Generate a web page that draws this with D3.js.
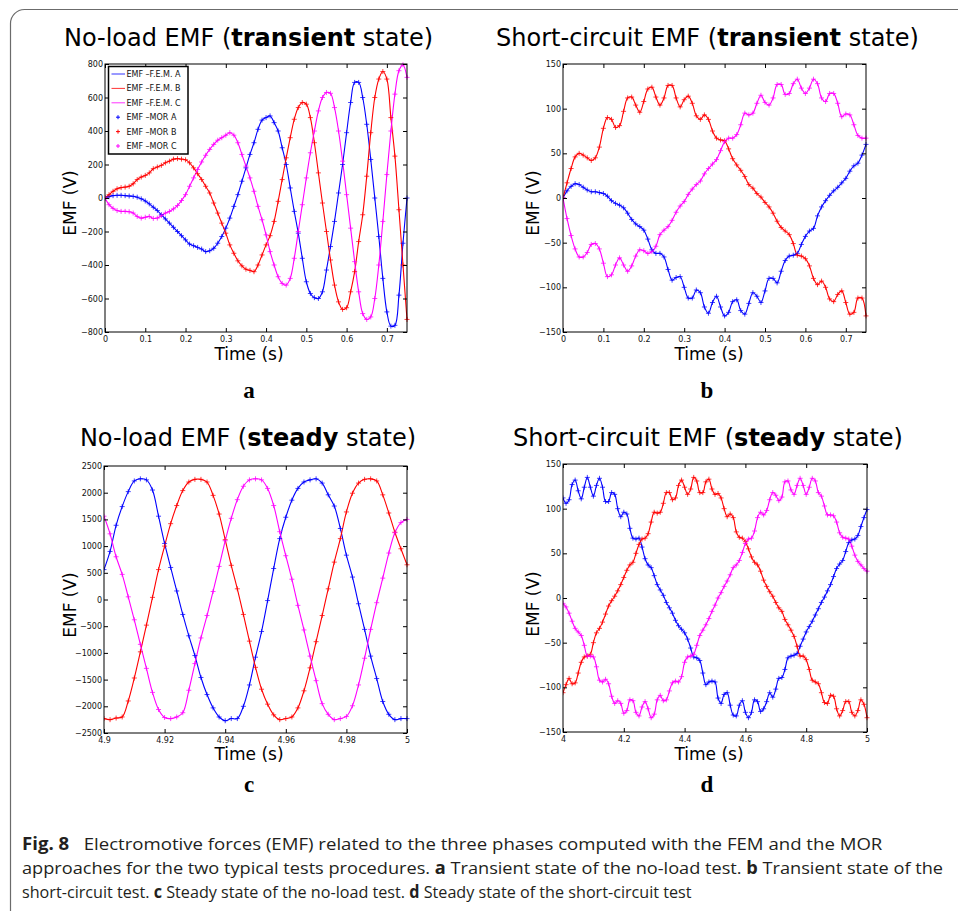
<!DOCTYPE html>
<html><head><meta charset="utf-8">
<script src="https://cdn.jsdelivr.net/npm/d3@7"></script>
<style>body{margin:0;background:#fff} svg{display:block} text{white-space:pre}</style>
</head><body>
<svg id="fig" width="958" height="911"></svg>
<script>
// ---------- sample times ----------
const timeA = d3.range(76).map(i => +(i * 0.01).toFixed(2));          // 0 .. 0.75 s
const timeB = d3.range(76).map(i => +(i * 0.01).toFixed(2));          // 0 .. 0.75 s
const timeC = d3.range(51).map(i => +(4.9 + i * 0.002).toFixed(3));   // 4.9 .. 5 s
const timeD = d3.range(101).map(i => +(4 + i * 0.01).toFixed(2));     // 4 .. 5 s

// ---------- (a) no-load, transient ----------
const aPhaseA = [0,8,14,16,16,14,12,10,5,-5,
 -18,-35,-55,-75,-100,-125,-150,-175,-200,-225,
 -250,-275,-285,-295,-305,-320,-315,-300,-270,-230,
 -180,-120,-50,20,100,180,260,330,410,465,
 480,490,450,400,300,200,60,-80,-210,-360,
 -500,-570,-595,-600,-560,-430,-290,-140,30,200,
 390,570,690,690,600,440,230,0,-230,-480,
 -680,-765,-760,-580,-270,0];
const aPhaseB = [0,20,40,55,62,65,70,85,110,125,
 135,150,175,185,195,210,220,232,235,232,
 228,210,180,145,110,70,30,-30,-90,-150,
 -210,-280,-330,-375,-405,-425,-432,-440,-400,-340,
 -280,-225,-140,-20,110,240,360,470,540,570,
 560,480,330,150,-30,-200,-370,-520,-620,-665,
 -655,-560,-440,-260,-100,130,390,600,710,755,
 710,480,250,-70,-400,-725];
const aPhaseC = [0,-40,-62,-75,-80,-80,-82,-90,-110,-120,
 -115,-110,-122,-120,-105,-90,-80,-65,-45,-15,
 20,70,120,170,215,255,290,320,345,360,
 375,390,375,330,260,190,120,40,-50,-130,
 -220,-320,-400,-470,-510,-520,-480,-360,-200,-40,
 120,270,400,520,600,630,625,540,400,220,
 20,-180,-380,-560,-690,-725,-710,-600,-400,-140,
 140,400,620,760,795,720];

// ---------- (b) short-circuit, transient ----------
const bPhaseA = [0,8,13,16,15,12,9,7,7,6,
 5,2,-3,-6,-8,-11,-17,-24,-29,-32,
 -36,-46,-58,-62,-62,-66,-80,-92,-89,-88,
 -100,-112,-112,-103,-106,-122,-129,-117,-110,-122,
 -132,-128,-116,-114,-126,-130,-118,-106,-110,-117,
 -104,-90,-90,-95,-82,-70,-65,-64,-62,-52,
 -43,-37,-34,-20,-10,-3,3,8,12,17,
 22,30,36,39,48,60];
const bPhaseB = [0,17,33,46,50,48,45,42,45,57,
 78,90,88,79,81,97,112,113,104,96,
 108,122,124,113,104,112,126,126,112,102,
 110,114,106,92,88,93,88,75,67,65,
 64,55,44,37,31,24,15,11,5,1,
 -5,-10,-17,-26,-33,-37,-41,-51,-64,-65,
 -68,-76,-90,-97,-93,-100,-113,-116,-108,-104,
 -117,-130,-128,-112,-112,-132];
const bPhaseC = [0,-23,-42,-57,-66,-66,-61,-52,-51,-57,
 -73,-88,-86,-75,-67,-75,-82,-76,-65,-58,
 -59,-62,-60,-54,-41,-36,-32,-25,-16,-9,
 -4,4,10,15,19,27,33,38,43,53,
 63,67,67,71,82,95,93,95,106,115,
 107,104,112,127,127,116,117,128,133,123,
 117,123,133,128,112,108,117,117,106,91,
 94,93,82,70,67,67];

// ---------- (c) no-load, steady ----------
const cPhaseA = [560,900,1390,1740,2020,2220,2260,2240,2050,1560,
 1050,600,160,-280,-680,-1050,-1460,-1780,-2030,-2200,
 -2270,-2230,-2230,-2000,-1600,-1080,-600,-20,580,1140,
 1540,1860,2080,2200,2240,2260,2180,1960,1750,1330,
 830,420,-80,-560,-1060,-1480,-1910,-2150,-2250,-2230,
 -2230];
const cPhaseB = [-2230,-2250,-2220,-2200,-1900,-1470,-980,-480,40,560,
 1000,1420,1760,2040,2200,2250,2250,2200,1950,1600,
 1120,640,200,-280,-780,-1270,-1680,-1960,-2160,-2250,
 -2230,-2200,-2030,-1710,-1280,-790,-300,200,700,1140,
 1640,1990,2180,2250,2260,2220,1960,1620,1260,950,
 650];
const cPhaseC = [1560,1230,800,470,50,-380,-840,-1290,-1740,-2060,
 -2210,-2230,-2200,-2120,-1700,-1200,-720,-300,150,620,
 1100,1520,1870,2120,2240,2260,2240,2080,1760,1270,
 820,380,-110,-570,-1060,-1520,-1950,-2150,-2250,-2230,
 -2190,-1990,-1600,-1100,-560,-60,400,870,1250,1440,
 1500];

// ---------- (d) short-circuit, steady ----------
const dPhaseA = [112,106,110,127,132,120,111,124,135,124,
 114,126,134,124,108,108,118,116,100,91,
 96,94,78,67,66,67,57,44,37,34,
 25,15,9,3,-5,-11,-17,-25,-31,-35,
 -39,-46,-56,-66,-67,-70,-84,-97,-94,-93,
 -94,-112,-118,-108,-106,-120,-131,-132,-120,-115,
 -128,-134,-128,-114,-116,-127,-124,-116,-106,-111,
 -102,-90,-89,-80,-67,-65,-64,-62,-54,-46,
 -38,-32,-26,-19,-12,-5,1,8,15,24,
 33,38,42,52,62,65,66,70,80,90,
 99];
const dPhaseB = [-106,-97,-90,-96,-95,-84,-72,-66,-65,-63,
 -50,-39,-34,-27,-18,-9,-3,2,8,15,
 23,31,37,40,50,60,66,67,72,85,
 96,95,96,106,118,118,110,112,126,132,
 124,116,122,135,131,118,118,130,133,122,
 116,117,112,100,91,94,90,74,68,67,
 63,55,46,40,37,30,20,13,7,2,
 -5,-11,-15,-24,-30,-36,-43,-54,-65,-65,
 -69,-80,-92,-94,-96,-106,-117,-118,-109,-110,
 -124,-132,-126,-116,-116,-128,-132,-126,-114,-119,
 -134];
const dPhaseC = [-6,-10,-17,-26,-34,-38,-42,-53,-65,-65,
 -66,-77,-92,-94,-91,-96,-110,-118,-115,-118,
 -129,-126,-114,-115,-128,-132,-122,-116,-124,-134,
 -130,-114,-109,-115,-114,-104,-95,-93,-94,-88,
 -72,-66,-65,-63,-53,-42,-36,-30,-23,-15,
 -8,0,6,13,19,26,34,37,42,51,
 61,66,67,75,90,96,93,98,110,118,
 115,109,113,130,131,121,116,126,134,126,
 116,124,134,131,118,114,103,93,93,92,
 85,73,68,67,66,58,48,41,37,33,
 30];

// ---------- ticks ----------
const aXTicks = [0,0.1,0.2,0.3,0.4,0.5,0.6,0.7];
const aXTickLabels = ["0","0.1","0.2","0.3","0.4","0.5","0.6","0.7"];
const aYTicks = [-800,-600,-400,-200,0,200,400,600,800];
const aYTickLabels = ["\u2212800","\u2212600","\u2212400","\u2212200","0","200","400","600","800"];
const bXTicks = aXTicks, bXTickLabels = aXTickLabels;
const bYTicks = [-150,-100,-50,0,50,100,150];
const bYTickLabels = ["\u2212150","\u2212100","\u221250","0","50","100","150"];
const cXTicks = [4.9,4.92,4.94,4.96,4.98,5];
const cXTickLabels = ["4.9","4.92","4.94","4.96","4.98","5"];
const cYTicks = [-2500,-2000,-1500,-1000,-500,0,500,1000,1500,2000,2500];
const cYTickLabels = ["\u22122500","\u22122000","\u22121500","\u22121000","\u2212500","0","500","1000","1500","2000","2500"];
const dXTicks = [4,4.2,4.4,4.6,4.8,5];
const dXTickLabels = ["4","4.2","4.4","4.6","4.8","5"];
const dYTicks = bYTicks, dYTickLabels = bYTickLabels;

const legendLabels = ["EMF \u2013F.E.M. A","EMF \u2013F.E.M. B","EMF \u2013F.E.M. C","EMF \u2013MOR A","EMF \u2013MOR B","EMF \u2013MOR C"];
const phaseColors = ["#0000ff","#ff0000","#ff00ff"];

// ---------- layout ----------
const panels = [
 {t:timeA, s:[aPhaseA,aPhaseB,aPhaseC], box:[105,407,64,332], xd:[0,0.75], yd:[-800,800],
  xt:aXTicks, xl:aXTickLabels, yt:aYTicks, yl:aYTickLabels,
  title:["No-load EMF (","transient"," state)"], tx:248.5, ty:46, letter:"a", lx:249, ly:398,
  ylab:[76,203], xlab:[249,360], legend:true},
 {t:timeB, s:[bPhaseA,bPhaseB,bPhaseC], box:[563,866,64,332], xd:[0,0.75], yd:[-150,150],
  xt:bXTicks, xl:bXTickLabels, yt:bYTicks, yl:bYTickLabels,
  title:["Short-circuit EMF (","transient"," state)"], tx:707.5, ty:46, letter:"b", lx:707, ly:398,
  ylab:[539,203], xlab:[709,360]},
 {t:timeC, s:[cPhaseA,cPhaseB,cPhaseC], box:[104,407,466,733], xd:[4.9,5], yd:[-2500,2500],
  xt:cXTicks, xl:cXTickLabels, yt:cYTicks, yl:cYTickLabels,
  title:["No-load EMF (","steady"," state)"], tx:248, ty:446, letter:"c", lx:249, ly:792,
  ylab:[76,605], xlab:[249,760]},
 {t:timeD, s:[dPhaseA,dPhaseB,dPhaseC], box:[563,867,464,732], xd:[4,5], yd:[-150,150],
  xt:dXTicks, xl:dXTickLabels, yt:dYTicks, yl:dYTickLabels,
  title:["Short-circuit EMF (","steady"," state)"], tx:708, ty:446, letter:"d", lx:707, ly:792,
  ylab:[539,604], xlab:[709,760]}
];

const svg = d3.select("#fig");
// outer rounded frame
svg.append("rect").attr("x",10.5).attr("y",9.5).attr("width",1200).attr("height",1200)
  .attr("rx",14).attr("fill","none").attr("stroke","#6b6b6b").attr("stroke-width",1.2);

const plus = "M-2.5,0H2.5M0,-2.5V2.5";

panels.forEach((p, pi) => {
  const [x0,x1,y0,y1] = p.box;
  const x = d3.scaleLinear().domain(p.xd).range([x0,x1]);
  const y = d3.scaleLinear().domain(p.yd).range([y1,y0]);
  const g = svg.append("g");
  const clipId = "clip" + pi;
  g.append("clipPath").attr("id", clipId).append("rect")
    .attr("x", x0).attr("y", y0 - 3).attr("width", x1 - x0 + 3).attr("height", y1 - y0 + 6);

  const line = d3.line().x((d,i) => x(p.t[i])).y(d => y(d)).curve(d3.curveCatmullRom.alpha(0.5));
  const plot = g.append("g").attr("clip-path", `url(#${clipId})`);
  p.s.forEach((vals, k) => {
    plot.append("path").attr("d", line(vals)).attr("fill","none")
      .attr("stroke", phaseColors[k]).attr("stroke-width", 1.1);
  });
  p.s.forEach((vals, k) => {
    plot.append("g").selectAll("path").data(vals).join("path")
      .attr("transform", (d,i) => `translate(${x(p.t[i])},${y(d)})`)
      .attr("d", plus).attr("stroke", phaseColors[k]).attr("stroke-width", 1)
      .attr("stroke-opacity", 0.75);
  });

  // axes (ticks inside on all four sides)
  const fmtX = d => p.xl[p.xt.indexOf(d)];
  const fmtY = d => p.yl[p.yt.indexOf(d)];
  const styleAxis = sel => {
    sel.select(".domain").remove();
    sel.selectAll("line").attr("stroke","#000");
    sel.selectAll("text").attr("font-family","DejaVu Sans").attr("font-size",8).attr("fill","#111");
  };
  g.append("g").attr("transform",`translate(0,${y1})`)
    .call(d3.axisBottom(x).tickValues(p.xt).tickFormat(fmtX).tickSize(-4).tickPadding(4)).call(styleAxis);
  g.append("g").attr("transform",`translate(0,${y0})`)
    .call(d3.axisTop(x).tickValues(p.xt).tickFormat("").tickSize(-4)).call(styleAxis);
  g.append("g").attr("transform",`translate(${x0},0)`)
    .call(d3.axisLeft(y).tickValues(p.yt).tickFormat(fmtY).tickSize(-4).tickPadding(2)).call(styleAxis);
  g.append("g").attr("transform",`translate(${x1},0)`)
    .call(d3.axisRight(y).tickValues(p.yt).tickFormat("").tickSize(-4)).call(styleAxis);
  g.append("rect").attr("x",x0).attr("y",y0).attr("width",x1-x0).attr("height",y1-y0)
    .attr("fill","none").attr("stroke","#000").attr("stroke-width",1);

  // axis labels
  g.append("text").attr("transform",`translate(${p.ylab[0]},${p.ylab[1]}) rotate(-90)`)
    .attr("text-anchor","middle").attr("font-family","DejaVu Sans").attr("font-size",17).text("EMF (V)");
  g.append("text").attr("x",p.xlab[0]).attr("y",p.xlab[1])
    .attr("text-anchor","middle").attr("font-family","DejaVu Sans").attr("font-size",17).text("Time (s)");

  // title
  const tt = g.append("text").attr("x",p.tx).attr("y",p.ty).attr("text-anchor","middle")
    .attr("font-family","DejaVu Sans").attr("font-size",24);
  tt.append("tspan").text(p.title[0]);
  tt.append("tspan").attr("font-weight","bold").text(p.title[1]);
  tt.append("tspan").text(p.title[2]);

  // panel letter
  g.append("text").attr("x",p.lx).attr("y",p.ly).attr("text-anchor","middle")
    .attr("font-family","Liberation Serif").attr("font-weight","bold").attr("font-size",23).text(p.letter);

  // legend
  if (p.legend) {
    const lg = g.append("g");
    lg.append("rect").attr("x",108.5).attr("y",66.5).attr("width",79.5).attr("height",87.5)
      .attr("fill","#fff").attr("stroke","#000").attr("stroke-width",1.5);
    legendLabels.forEach((lab, i) => {
      const yy = 74 + i * 14.4;
      const col = phaseColors[i % 3];
      if (i < 3) {
        lg.append("line").attr("x1",111.5).attr("x2",125).attr("y1",yy).attr("y2",yy)
          .attr("stroke",col).attr("stroke-width",1).attr("stroke-opacity",0.8);
      } else {
        lg.append("path").attr("transform",`translate(118,${yy})`).attr("d","M-2,0H2M0,-2V2")
          .attr("stroke",col).attr("stroke-width",1);
      }
      lg.append("text").attr("x",126.5).attr("y",yy + 3).attr("font-family","DejaVu Sans")
        .attr("font-size",8).attr("fill","#111").text(lab);
    });
  }
});

// caption (horizontally scaled to the reference's condensed width)
const capLines = [
  {y:850, w:861, parts:[["Fig. 8",true],["   Electromotive forces (EMF) related to the three phases computed with the FEM and the MOR",false]]},
  {y:874, w:922, parts:[["approaches for the two typical tests procedures. ",false],["a",true],[" Transient state of the no-load test. ",false],["b",true],[" Transient state of the",false]]},
  {y:898, w:670, parts:[["short-circuit test. ",false],["c",true],[" Steady state of the no-load test. ",false],["d",true],[" Steady state of the short-circuit test",false]]}
];
capLines.forEach(l => {
  const g = svg.append("g");
  const t = g.append("text").attr("x",0).attr("y",0).attr("font-family","Open Sans")
    .attr("font-size",17).attr("fill","#231f20");
  l.parts.forEach(([s,b]) => {
    const ts = t.append("tspan").text(s);
    if (b) ts.attr("font-weight","bold");
  });
  const nat = t.node().getComputedTextLength();
  const sx = nat > 0 ? l.w / nat : 1;
  g.attr("transform", `translate(22,${l.y}) scale(${sx},1)`);
});
</script>
</body></html>
